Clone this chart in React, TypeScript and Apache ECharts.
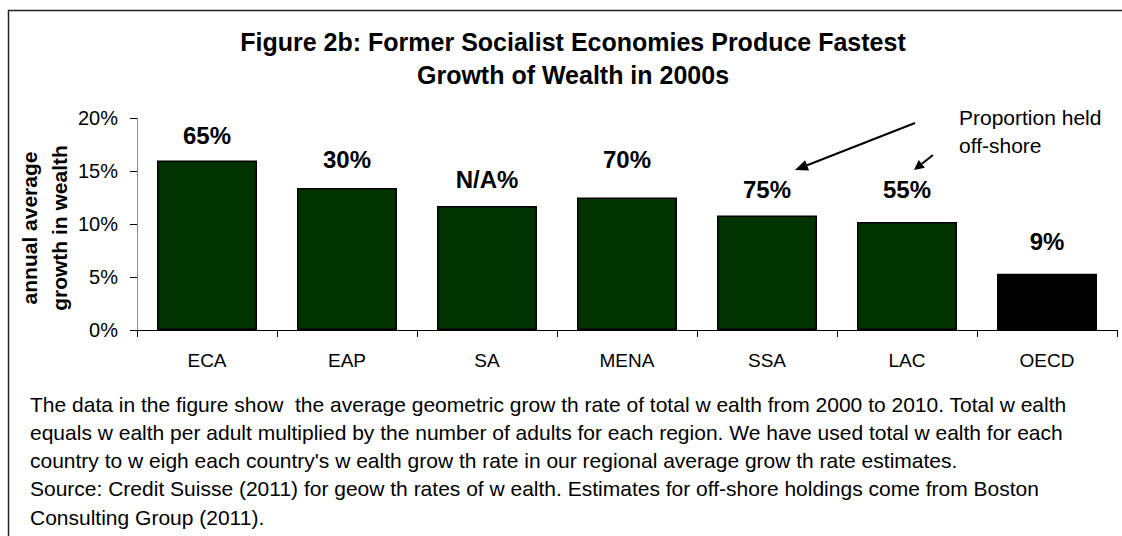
import React, { useEffect, useRef } from "react";
import * as echarts from "echarts";

const categories = ["ECA", "EAP", "SA", "MENA", "SSA", "LAC", "OECD"];
const growthPct = [16.0, 13.4, 11.7, 12.5, 10.8, 10.2, 5.3];
const offshoreLabels = ["65%", "30%", "N/A%", "70%", "75%", "55%", "9%"];
const yMin = 0;
const yMax = 20;
const yStep = 5;

const titleLines = [
  "Figure 2b: Former Socialist Economies Produce Fastest",
  "Growth of Wealth in 2000s",
];
const yAxisTitleLines = ["annual average", "growth in wealth"];
const annotationLines = ["Proportion held", "off-shore"];
const captionLines = [
  "The data in the figure show  the average geometric grow th rate of total w ealth from 2000 to 2010. Total w ealth",
  "equals w ealth per adult multiplied by the number of adults for each region. We have used total w ealth for each",
  "country to w eigh each country's w ealth grow th rate in our regional average grow th rate estimates.",
  "Source: Credit Suisse (2011) for geow th rates of w ealth. Estimates for off-shore holdings come from Boston",
  "Consulting Group (2011).",
];

// styling (not data)
const barColors = ["#003300", "#003300", "#003300", "#003300", "#003300", "#003300", "#000000"];
const labelGaps = [13, 16, 14, 26, 14, 20, 20];
const FONT = "'Liberation Sans', Arial, Helvetica, sans-serif";

function arrow(x1: number, y1: number, x2: number, y2: number, head: number, half: number) {
  const dx = x2 - x1;
  const dy = y2 - y1;
  const len = Math.sqrt(dx * dx + dy * dy);
  const ux = dx / len;
  const uy = dy / len;
  const bx = x2 - ux * head;
  const by = y2 - uy * head;
  const px = -uy;
  const py = ux;
  return [
    {
      type: "line",
      shape: { x1, y1, x2: bx, y2: by },
      style: { stroke: "#000", lineWidth: 2 },
    },
    {
      type: "polygon",
      shape: {
        points: [
          [x2, y2],
          [bx + px * half, by + py * half],
          [bx - px * half, by - py * half],
        ],
      },
      style: { fill: "#000" },
    },
  ];
}

export default function App() {
  const ref = useRef<HTMLDivElement>(null);

  useEffect(() => {
    if (!ref.current) return;
    const chart = echarts.init(ref.current, null, { renderer: "svg" });

    const graphics: any[] = [
      {
        type: "rect",
        shape: { x: 8.5, y: 10.5, width: 1300, height: 700 },
        style: { fill: "none", stroke: "#222", lineWidth: 1.5 },
        silent: true,
      },
      ...titleLines.map((t, i) => ({
        type: "text",
        x: 573,
        y: 42 + i * 33,
        style: {
          text: t,
          font: `bold 25px ${FONT}`,
          fill: "#000",
          textAlign: "center",
          textVerticalAlign: "middle",
        },
      })),
      ...yAxisTitleLines.map((t, i) => ({
        type: "text",
        x: 29 + i * 30,
        y: 228,
        rotation: Math.PI / 2,
        style: {
          text: t,
          font: `bold 21px ${FONT}`,
          fill: "#000",
          textAlign: "center",
          textVerticalAlign: "middle",
        },
      })),
      ...annotationLines.map((t, i) => ({
        type: "text",
        x: 959,
        y: 117 + i * 28,
        style: {
          text: t,
          font: `21px ${FONT}`,
          fill: "#000",
          textAlign: "left",
          textVerticalAlign: "middle",
        },
      })),
      ...arrow(915, 123, 795, 170, 13, 5.5),
      ...arrow(933, 155, 914, 170, 10, 5),
      ...captionLines.map((t, i) => ({
        type: "text",
        x: 30,
        y: 404 + i * 28.3,
        style: {
          text: t,
          font: `21px ${FONT}`,
          fill: "#000",
          textAlign: "left",
          textVerticalAlign: "middle",
        },
      })),
    ];

    chart.setOption({
      animation: false,
      backgroundColor: "#fff",
      grid: { left: 137, right: 5, top: 118, bottom: 206, containLabel: false },
      xAxis: {
        type: "category",
        data: categories,
        axisLine: { lineStyle: { color: "#000", width: 1 } },
        axisTick: { show: true, alignWithLabel: false, length: 7, lineStyle: { color: "#000" } },
        axisLabel: { color: "#000", fontFamily: FONT, fontSize: 19, margin: 21 },
        splitLine: { show: false },
      },
      yAxis: {
        type: "value",
        min: yMin,
        max: yMax,
        interval: yStep,
        axisLine: { show: true, lineStyle: { color: "#888", width: 1 } },
        axisTick: { show: true, length: 7, lineStyle: { color: "#000" } },
        axisLabel: {
          color: "#000",
          fontFamily: FONT,
          fontSize: 20,
          margin: 19,
          formatter: "{value}%",
        },
        splitLine: { show: false },
      },
      series: [
        {
          type: "bar",
          barWidth: 100,
          data: growthPct.map((v, i) => ({
            value: v,
            itemStyle: { color: barColors[i], borderColor: "#000", borderWidth: 1.5 },
            label: {
              show: true,
              position: "top",
              distance: labelGaps[i],
              formatter: offshoreLabels[i],
              color: "#000",
              fontWeight: "bold",
              fontFamily: FONT,
              fontSize: 24,
            },
          })),
        },
      ],
      graphic: graphics,
    });

    return () => chart.dispose();
  }, []);

  return (
    <div
      ref={ref}
      style={{ position: "absolute", left: 0, top: 0, width: 1122, height: 536 }}
    />
  );
}
